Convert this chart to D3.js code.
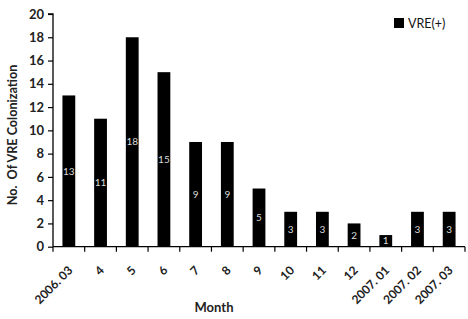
<!DOCTYPE html>
<html><head><meta charset="utf-8">
<script src="https://cdn.jsdelivr.net/npm/d3@7"></script>
<style>body{margin:0;background:#fff}svg{display:block}text{font-family:Lato,"Open Sans",sans-serif}</style>
</head><body>
<svg id="c" width="468" height="319"></svg>
<script>
const categories = ["2006. 03","4","5","6","7","8","9","10","11","12","2007. 01","2007. 02","2007. 03"];
const values = [13,11,18,15,9,9,5,3,3,2,1,3,3];
const yTicks = [0,2,4,6,8,10,12,14,16,18,20];
const seriesName = "VRE(+)";

const svg = d3.select("#c");
const m = {l:53, r:3, t:14, b:72};
const W = 468, H = 319;
const xb = d3.scaleBand().domain(categories).range([m.l, W - m.r]);
const y = d3.scaleLinear().domain([0,20]).range([246.7, 14]);

// bars
svg.selectAll("rect.bar").data(values).join("rect")
  .attr("x", (d,i)=>xb(categories[i]) + xb.bandwidth()/2 - 6.4)
  .attr("width", 12.8)
  .attr("y", d=>y(d)).attr("height", d=>y(0)-y(d)).attr("fill","#000");

// value labels
svg.selectAll("text.val").data(values).join("text")
  .attr("x", (d,i)=>xb(categories[i]) + xb.bandwidth()/2)
  .attr("y", d=>(y(d)+y(0))/2).attr("dy","0.35em")
  .attr("text-anchor","middle").attr("fill","#ddd").attr("font-size",10).text(d=>d);

// y axis
const ya = svg.append("g").attr("transform",`translate(${m.l},0)`)
  .call(d3.axisLeft(y).tickValues(yTicks).tickSize(5).tickPadding(4));
ya.select(".domain").attr("stroke","#000").attr("stroke-width",1.3).attr("d",`M-5,${y(20)}H0V${y(0)}`);
ya.selectAll(".tick line").attr("stroke","#000").attr("stroke-width",1.2);
ya.selectAll("text").attr("font-size",13).attr("font-weight","bold").attr("fill","#222").style("font-family","Lato,sans-serif");

// x axis
const xg = svg.append("g").attr("transform",`translate(0,${y(0)})`);
xg.append("line").attr("x1",m.l).attr("x2",W-m.r).attr("stroke","#000").attr("stroke-width",1.3);
const bounds = categories.map(c=>xb(c)).concat([W-m.r]);
xg.selectAll("line.tk").data(bounds).join("line").attr("class","tk")
  .attr("x1",d=>d).attr("x2",d=>d).attr("y1",0).attr("y2",5).attr("stroke","#000").attr("stroke-width",1.2);
xg.selectAll("text.xl").data(categories).join("text")
  .attr("transform", c=>`translate(${xb(c)+xb.bandwidth()/2+1.5},${21.5}) rotate(-45)`)
  .attr("text-anchor","end").attr("dy","0.35em").attr("font-size",12).attr("font-weight","bold").attr("fill","#222").text(c=>c);

// axis titles
svg.append("text").attr("x",214).attr("y",312).attr("text-anchor","middle")
  .attr("font-size",13).attr("font-weight","bold").attr("fill","#222").text("Month");
svg.append("text").attr("transform",`translate(16.5,135) rotate(-90)`).attr("text-anchor","middle")
  .attr("font-size",12.6).attr("font-weight","bold").attr("fill","#222").attr("xml:space","preserve").text("No.  Of VRE Colonization");

// legend
svg.append("rect").attr("x",394).attr("y",18).attr("width",10).attr("height",10).attr("fill","#000");
svg.append("text").attr("x",408).attr("y",27.5).attr("font-size",12.5).attr("fill","#111").text(seriesName);
</script>
</body></html>
